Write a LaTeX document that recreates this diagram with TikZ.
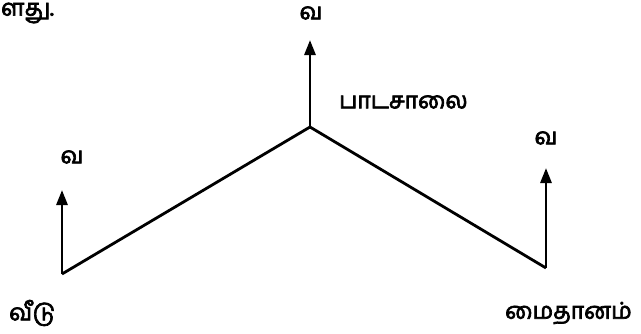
\documentclass[tikz,border=0pt]{standalone}
\usepackage{fontspec}
\newfontfamily\tamil[Script=Tamil, FakeBold=3]{Hind Madurai}
\usetikzlibrary{arrows.meta}
\tikzset{
  path/.style={line width=2.8pt, line join=miter},
  northarrow/.style={line width=2.8pt, -{Triangle[length=15pt,width=11pt]}},
  lbl/.style={font=\tamil\fontsize{23}{26}\selectfont, inner sep=0pt, text=black}
}
\begin{document}
\begin{tikzpicture}[x=1pt,y=1pt]
\useasboundingbox (0,0) rectangle (641,333);
\clip (0,0) rectangle (641,333);
% vertices (y measured from bottom)
\coordinate (home) at (62,59);
\coordinate (school) at (310,206);
\coordinate (ground) at (546,65);
\coordinate (homeN) at (62,143);
\coordinate (schoolN) at (310,293);
\coordinate (groundN) at (546,165);
\draw[path] (home) -- (school) -- (ground);
\draw[northarrow] (home) -- (homeN);
\draw[northarrow] (school) -- (schoolN);
\draw[northarrow] (ground) -- (groundN);
\node[lbl] (hN) at (72,176) {வ};
\node[lbl] (sN) at (311,320) {வ};
\node[lbl] (gN) at (546,195) {வ};
\node[lbl, anchor=west] (schoolL) at (339,231) {பாடசாலை};
\node[lbl, anchor=west] (homeL) at (9,20) {வீடு};
\node[lbl, anchor=west] (groundL) at (505,20) {மைதானம்};
\node[lbl, anchor=west] (top) at (1,320) {ளது.};
\end{tikzpicture}
\end{document}
